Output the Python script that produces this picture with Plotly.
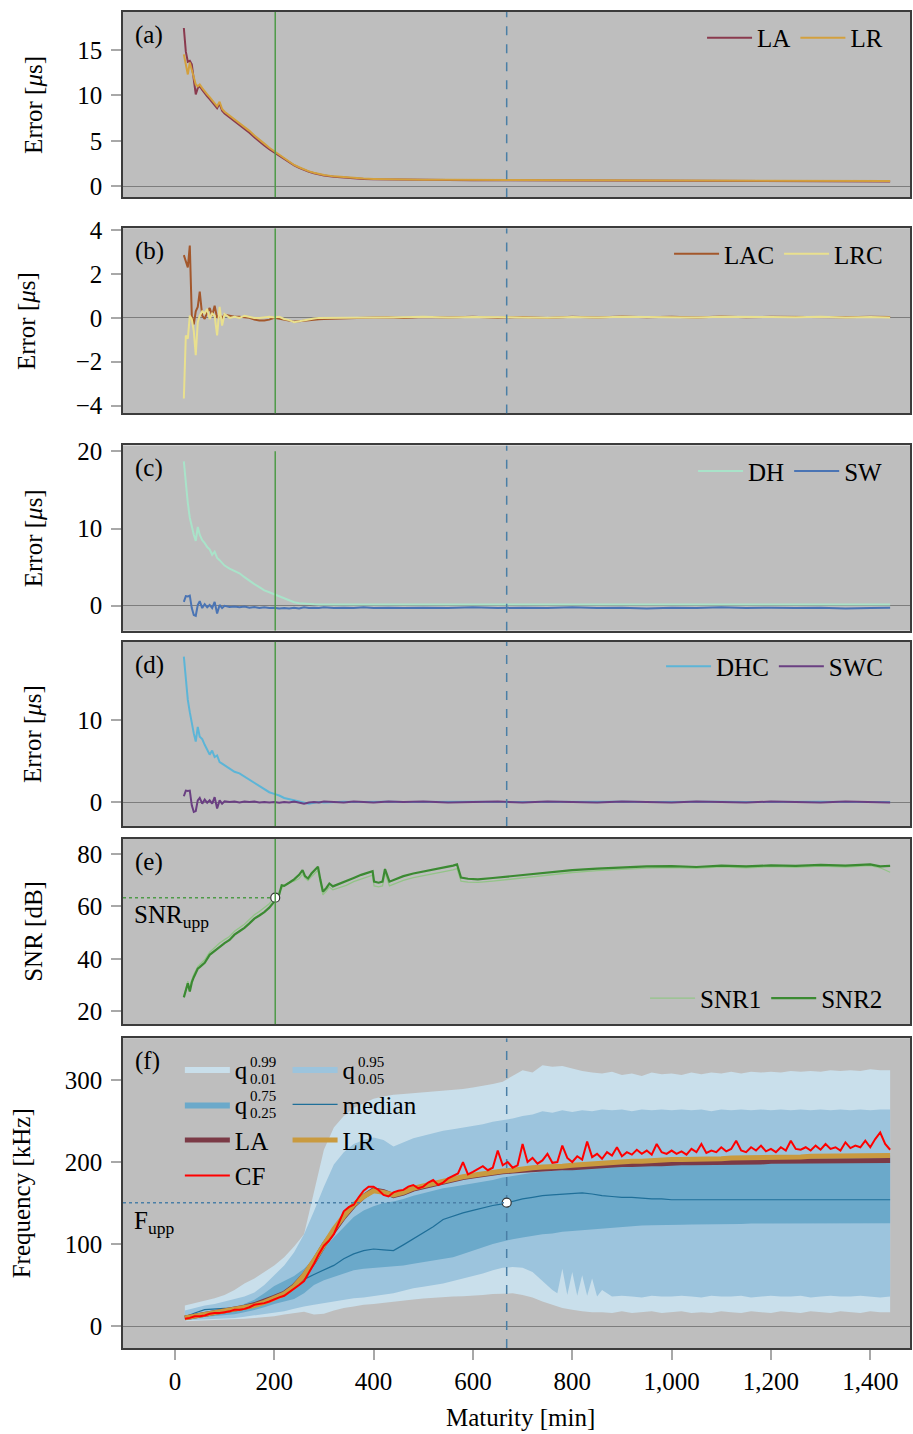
import plotly.graph_objects as go

# ---------------- data ----------------
t_err = [18, 22, 26, 30, 34, 38, 42, 46, 50, 55, 60, 65, 70, 75, 80, 85, 90, 95, 100,
         110, 120, 130, 140, 150, 160, 170, 180, 190, 200, 210, 220, 230, 240, 250, 260, 270, 280, 290, 300,
         320, 340, 360, 380, 400, 430, 460,
         500, 550, 600, 650, 700, 750, 800, 850, 900, 950, 1000, 1050, 1100, 1150, 1200, 1250, 1300, 1350, 1400,
         1440]

la_err = [17.4, 14.8, 13.7, 13.8, 13.4, 11.6, 10.1, 10.8, 11.0,
          10.6, 10.2, 9.9, 9.6, 9.3, 9.0, 8.6, 9.1, 8.3, 8.0,
          7.6, 7.2, 6.7, 6.3, 5.9, 5.4, 4.9, 4.5, 4.1, 3.75, 3.4, 3.0, 2.65, 2.3, 2.05, 1.8, 1.6, 1.45, 1.3, 1.2,
          1.05, 0.95, 0.88, 0.82, 0.78, 0.75, 0.72,
          0.70, 0.69, 0.68, 0.67, 0.66, 0.65, 0.64, 0.63, 0.62, 0.61, 0.60, 0.60, 0.59, 0.58, 0.58, 0.57, 0.57, 0.56, 0.56,
          0.55]
lr_err = [14.5, 13.5, 12.3, 13.6, 12.8, 11.8, 11.2, 11.0, 11.2,
          10.8, 10.4, 10.1, 9.8, 9.5, 9.2, 8.8, 9.3, 8.5, 8.2,
          7.8, 7.4, 6.9, 6.5, 6.1, 5.6, 5.1, 4.7, 4.25, 3.85, 3.45, 3.05, 2.7, 2.35, 2.1, 1.85, 1.65, 1.5, 1.35, 1.25,
          1.1, 1.0, 0.92, 0.86, 0.82, 0.78, 0.75,
          0.73, 0.72, 0.71, 0.70, 0.69, 0.68, 0.67, 0.66, 0.65, 0.64, 0.63, 0.63, 0.62, 0.61, 0.61, 0.60, 0.60, 0.59, 0.59,
          0.58]

lac_err = [2.86, 2.55, 2.3, 3.3, 0.1, -0.3, 0.3, 0.5, 1.2,
           0.1, -0.05, 0.25, 0.45, 0.1, 0.55, 0.0, 0.15, 0.0, 0.15,
           0.1, 0.05, 0.05, 0.02, 0.0, -0.08, -0.12, -0.12, -0.08, 0.0, -0.05, -0.1, -0.15, -0.17, -0.15, -0.12, -0.1, -0.08, -0.06, -0.05,
           -0.03, -0.02, 0.0, 0.01, 0.02, 0.03, 0.0,
           0.04, 0.02, 0.05, 0.01, 0.04, 0.0, 0.05, 0.02, 0.06, 0.03, 0.05, 0.02, 0.06, 0.03, 0.05, 0.04, 0.06, 0.03, 0.05,
           0.04]
lrc_err = [-3.68, -0.8, -0.95, 0.1, -0.05, -0.6, -1.7, -0.2, 0.1,
           0.3, 0.2, 0.4, -0.05, 0.2, 0.1, -0.8, 0.5, -0.35, 0.18,
           0.0, 0.05, 0.0, 0.1, 0.05, 0.0, 0.0, 0.02, 0.05, 0.02, 0.05, -0.05, -0.1, -0.2, -0.15, -0.1, -0.05, -0.03, 0.0, 0.0,
           0.01, 0.02, 0.0, 0.02, 0.03, 0.01, 0.03,
           0.05, 0.02, 0.04, 0.03, 0.05, 0.01, 0.04, 0.02, 0.05, 0.03, 0.04, 0.02, 0.05, 0.03, 0.04, 0.03, 0.05, 0.02, 0.04,
           0.02]

dh_err = [18.7, 15.8, 13.3, 11.4, 10.2, 9.2, 8.4, 10.2, 9.2,
          8.5, 8.1, 7.6, 7.3, 6.6, 7.0, 6.2, 5.9, 5.5, 5.2,
          4.8, 4.5, 4.2, 3.7, 3.2, 2.8, 2.4, 2.0, 1.75, 1.5, 1.2, 0.9, 0.65, 0.45, 0.32, 0.25, 0.2, 0.18, 0.16, 0.15,
          0.15, 0.16, 0.15, 0.16, 0.15, 0.16, 0.15,
          0.16, 0.15, 0.16, 0.15, 0.16, 0.15, 0.16, 0.15, 0.16, 0.15, 0.16, 0.15, 0.16, 0.15, 0.16, 0.15, 0.16, 0.15, 0.16,
          0.15]
sw_err = [0.5, 1.25, 1.2, 1.3, -0.3, -1.2, -1.3, 0.1, 0.6,
          -0.3, 0.2, -0.2, 0.1, -0.3, 0.5, -1.0, 0.1, -0.3, 0.0,
          -0.15, -0.1, -0.2, -0.1, -0.25, -0.15, -0.3, -0.2, -0.3, -0.25, -0.35, -0.3, -0.35, -0.25, -0.35, -0.2, -0.3, -0.25, -0.3, -0.2,
          -0.3, -0.25, -0.3, -0.2, -0.3, -0.25, -0.3,
          -0.25, -0.3, -0.2, -0.3, -0.25, -0.3, -0.2, -0.3, -0.25, -0.35, -0.25, -0.3, -0.2, -0.3, -0.25, -0.3, -0.25, -0.35, -0.3,
          -0.25]

dhc_err = [17.8, 14.9, 12.5, 11.0, 9.5, 8.4, 7.4, 9.2, 8.0,
           7.7, 7.0, 6.3, 5.8, 6.3, 5.5, 5.7, 4.9, 4.7, 4.5,
           4.1, 3.7, 3.5, 3.1, 2.8, 2.4, 2.0, 1.6, 1.2, 1.0, 0.8, 0.5, 0.35, 0.2, 0.05, -0.1, -0.2, -0.1, 0.0, -0.05,
           0.0, 0.02, 0.0, 0.03, 0.0, 0.02, 0.0,
           0.03, 0.0, 0.04, 0.01, 0.03, 0.0, 0.04, 0.02, 0.03, 0.0, 0.04, 0.01, 0.03, 0.0, 0.04, 0.02, 0.03, 0.0, 0.03,
           0.01]
swc_err = [0.7, 1.4, 1.35, 1.4, -0.4, -1.2, -1.1, 0.2, 0.5,
           -0.2, 0.3, -0.1, 0.2, -0.2, 0.6, -0.8, 0.2, -0.2, 0.1,
           0.0, 0.05, -0.05, 0.05, 0.0, 0.05, -0.05, 0.0, -0.05, 0.0, -0.1, 0.0, -0.05, 0.05, -0.05, -0.2, -0.05, 0.0, -0.05, 0.05,
           0.0, -0.05, 0.05, 0.0, -0.05, 0.05, 0.0,
           0.05, -0.05, 0.0, 0.05, -0.05, 0.05, 0.0, -0.05, 0.05, 0.0, -0.05, 0.05, 0.0, -0.05, 0.05, 0.0, -0.05, 0.05, 0.0,
           -0.05]

t_snr = [18, 22, 26, 30, 34, 38, 42, 46, 50, 55, 60,
         70, 80, 90, 100, 110, 120, 130, 140, 150, 160, 170, 180, 190, 200,
         205, 210, 215, 220, 230, 240, 250,
         257, 262, 268, 275, 282, 288, 293, 298,
         305, 311, 318, 330, 345, 360, 375, 390,
         398, 401, 410, 418, 423, 432, 440,
         460, 480, 500, 520, 540, 560,
         568, 573, 576, 590, 610, 640, 670, 700,
         750, 800, 850, 900, 950, 1000, 1050, 1100, 1150, 1200, 1250, 1300, 1350, 1400,
         1420, 1440]
snr1 = [25.5, 29.0, 31.5, 28.5, 32.0, 34.0, 35.5, 37.0, 37.8, 38.8, 39.6,
        42.5, 44.2, 46.0, 47.3, 48.5, 50.5, 51.8, 53.2, 55.0, 56.8, 58.0, 59.4, 61.0, 63.2,
        64.5, 65.5, 67.0, 68.0, 69.0, 69.6, 70.6,
        72.3, 70.8, 69.8, 71.3, 72.8, 73.8, 68.8, 64.4,
        65.8, 67.4, 66.3, 67.1, 68.0, 69.4, 70.5, 71.3,
        71.9, 67.8, 67.4, 67.8, 72.6, 67.8, 68.4,
        69.9, 70.9, 71.6, 72.4, 73.2, 73.9,
        74.4, 71.5, 69.6, 69.2, 69.1, 69.6, 70.2, 70.8,
        71.8, 72.9, 73.6, 74.1, 74.6, 74.8, 74.5, 75.0, 74.7, 75.1, 74.9, 75.3, 75.0, 75.5,
        74.7, 73.0]
snr2 = [25.3, 28.0, 30.7, 27.5, 31.0, 33.0, 34.5, 36.2, 36.8, 37.8, 38.5,
        41.5, 43.0, 44.7, 46.0, 47.2, 49.2, 50.5, 51.8, 53.5, 55.3, 56.5, 57.8, 59.5, 61.8,
        63.5, 64.5, 68.0, 67.8, 69.0, 70.3, 72.0,
        73.8, 71.5, 70.6, 72.5, 74.0, 75.1, 70.0, 65.6,
        67.0, 68.7, 67.6, 68.5, 69.4, 70.8, 72.0, 72.8,
        73.4, 69.4, 69.0, 69.4, 74.2, 69.4, 70.0,
        71.5, 72.5, 73.2, 74.0, 74.8, 75.5,
        76.0, 73.0, 71.0, 70.5, 70.3, 70.8, 71.4, 72.0,
        72.8, 73.8, 74.4, 74.8, 75.2, 75.3, 75.0, 75.5, 75.2, 75.6, 75.4, 75.8, 75.5, 76.0,
        75.2, 75.4]

t_f = [20, 40, 60, 80, 100, 120, 140, 160, 180, 200,
       220, 240, 260, 280, 300, 320, 340, 360, 380, 400,
       420, 440, 460, 480, 500, 520, 540, 560, 580, 600,
       620, 640, 660, 680, 700, 720, 740, 760, 780, 800,
       820, 840, 860, 880, 900, 920, 940, 960, 980, 1000,
       1020, 1040, 1060, 1080, 1100, 1120, 1140, 1160, 1180, 1200,
       1220, 1240, 1260, 1280, 1300, 1320, 1340, 1360, 1380, 1400, 1420, 1440]
q99 = [25, 28, 31, 34, 38, 44, 52, 58, 66, 74,
       84, 97, 112, 165, 215, 242, 256, 266, 272, 277,
       280, 282, 283, 284, 285, 286, 287, 288, 289, 291,
       293, 295, 298, 305, 312, 309, 318, 316, 317, 314,
       311, 309, 308, 310, 306, 308, 305, 309, 307, 308,
       306, 309, 307, 309, 308, 310, 308, 310, 309, 310,
       309, 311, 310, 311, 310, 312, 311, 312, 311, 313, 312, 312]
q95 = [19, 22, 25, 27, 30, 33, 36, 41, 50, 62,
       74, 90, 112, 140, 170, 197, 212, 222, 227, 230,
       227, 219, 224, 229, 232, 235, 238, 240, 242, 244,
       246, 249, 251, 253, 256, 258, 262, 260, 263, 261,
       263, 262, 264, 263, 264, 262, 264, 263, 264, 263,
       264, 263, 264, 262, 264, 263, 264, 263, 264, 263,
       264, 263, 264, 263, 264, 263, 264, 263, 264, 263, 264, 264]
q75 = [13, 15, 16, 17, 18, 22, 27, 32, 40, 49,
       55, 61, 70, 82, 95, 108, 120, 133, 141, 146,
       150, 152, 155, 159, 162, 165, 168, 170, 172, 174,
       176, 178, 181, 183, 185, 187, 188, 189, 190, 192,
       193, 195, 196, 198, 199, 200, 200, 201, 201, 202,
       202, 203, 203, 203, 204, 204, 204, 205, 205, 205,
       205, 206, 206, 206, 206, 207, 207, 207, 207, 207, 208, 208]
q50 = [11, 16, 20, 21, 21.5, 22, 23.5, 26, 30, 35,
       41, 49, 57, 63, 68, 74, 82, 88, 92, 94,
       93, 92, 99, 106, 114, 121, 130, 134, 138, 141,
       144, 147, 149, 152, 155, 157, 159, 160, 161, 162,
       162.5, 161, 159, 158, 157, 157, 156, 155, 155, 154,
       154, 154, 153.5, 154, 153.5, 154, 153.5, 154, 153.5, 154,
       154, 153.5, 154, 153.5, 154, 153.5, 154, 153.5, 154, 154, 153.5, 154]
q25 = [9, 10, 11, 12, 13, 14.5, 17, 19.5, 23, 27,
       30, 33, 40, 50, 56, 60, 64, 68, 70, 71,
       72, 73, 74, 76, 78, 80, 82, 84, 88, 92,
       96, 100, 103, 106, 108, 110, 112, 113, 115, 116,
       117, 118, 119, 120, 121, 122, 122.5, 123, 123, 123.5,
       123.5, 124, 124, 124, 124.5, 124.5, 124.5, 125, 125, 125,
       125, 125, 125, 125.5, 125.5, 125.5, 125.5, 125.5, 125.5, 125.5, 125.5, 125.5]
t_q05 = [20, 40, 60, 80, 100, 120, 140, 160, 180, 200,
         220, 240, 260, 280, 300, 320, 340, 360, 380, 400,
         420, 440, 460, 480, 500, 520, 540, 560, 580, 600,
         620, 640, 660, 680, 700, 720, 740, 760, 770, 780, 790, 800, 810, 820, 830, 840, 850, 860,
         880, 900, 920, 940, 960, 980, 1000,
         1020, 1040, 1060, 1080, 1100, 1120, 1140, 1160, 1180, 1200,
         1220, 1240, 1260, 1280, 1300, 1320, 1340, 1360, 1380, 1400, 1420, 1440]
q05 = [7, 7.5, 8, 8.5, 9, 10, 11.5, 13, 14.5, 16,
       18, 21, 24, 26, 28, 30, 32, 34, 35, 36.5,
       38, 40, 43, 46, 48, 50, 52, 55, 58, 61,
       64, 68, 71, 72, 71, 66, 55, 44, 40, 70, 38, 66, 37, 62, 37, 58, 36, 44,
       36, 37, 36, 35, 37, 36, 36,
       37, 36, 35, 37, 36, 36, 37, 35, 36, 37,
       36, 36, 37, 35, 36, 37, 36, 36, 37, 36, 35, 36]
q01 = [6, 6.5, 7, 7, 7.5, 8, 9, 10, 11, 12,
       14, 16, 17.5, 14, 15, 19, 22, 24, 26, 27,
       28.5, 30, 31, 32.5, 33.5, 34.5, 35.5, 36, 36.5, 37,
       38, 39, 39.5, 40, 38, 35, 30, 26, 22, 20,
       18, 17, 17, 16, 18, 16, 17, 18, 16, 17,
       18, 16, 17, 16, 18, 17, 16, 18, 17, 16,
       18, 17, 16, 18, 17, 16, 18, 17, 16, 18, 17, 17]
la_f = [10, 12, 14, 16, 18, 20, 23, 26, 30, 35,
        40, 49, 62, 79, 99, 117, 133, 147, 158, 166,
        164, 159, 162, 167, 170, 173, 175, 178, 181, 183,
        185, 186, 188, 189, 190, 191, 192, 192, 193, 193,
        194, 195, 196, 196, 197, 197, 198, 198, 198, 199,
        199, 199, 199, 200, 200, 200, 200, 200, 200, 201,
        201, 201, 201, 201, 201, 201, 201, 202, 202, 202, 202, 202]
lr_f = [10, 12, 14, 16, 18, 20, 22, 25, 29, 34,
        39, 48, 62, 80, 100, 118, 134, 148, 158, 165,
        163, 160, 163, 168, 171, 174, 176, 179, 182, 184,
        186, 187, 189, 190, 192, 193, 194, 194, 195, 196,
        197, 198, 199, 200, 200, 201, 201, 202, 202, 203,
        203, 203, 204, 204, 204, 205, 205, 205, 205, 206,
        206, 206, 206, 207, 207, 207, 207, 207, 208, 208, 208, 208]

t_cf = [20, 30, 40, 50, 60, 70, 80, 90, 100, 110, 120, 130, 140, 150, 160, 170, 180, 190, 200,
        210, 220, 230, 240, 250, 260, 270, 280, 290, 300, 310, 320, 330, 340, 350, 360, 370, 380, 390, 400,
        410, 420, 430, 440, 450, 460, 470, 480, 490, 500, 510, 520, 530, 540, 550, 560, 570, 580, 590, 600,
        610, 620, 630, 640, 650, 660, 670, 680, 690, 700, 710, 720, 730, 740, 750, 760, 770, 780, 790, 800,
        810, 820, 830, 840, 850, 860, 870, 880, 890, 900, 910, 920, 930, 940, 950, 960, 970, 980, 990, 1000,
        1010, 1020, 1030, 1040, 1050, 1060, 1070, 1080, 1090, 1100, 1110, 1120, 1130, 1140, 1150, 1160, 1170,
        1180, 1190, 1200,
        1210, 1220, 1230, 1240, 1250, 1260, 1270, 1280, 1290, 1300, 1310, 1320, 1330, 1340, 1350, 1360, 1370,
        1380, 1390, 1400, 1410, 1420, 1430, 1440]
cf_f = [9, 10, 12, 12, 13, 15, 16, 16, 17, 18, 20, 20, 21, 23, 26, 27, 28, 30, 33,
        35, 37, 41, 46, 50, 55, 65, 76, 88, 98, 104, 112, 126, 140, 145, 148, 157, 165, 170, 170,
        166, 160, 158, 163, 165, 166, 170, 172, 168, 170, 175, 178, 172, 175, 180, 183, 186, 200, 185, 188,
        192, 195, 190, 193, 214, 196, 200, 193, 196, 222, 200, 205, 198, 202, 210, 199, 200, 220, 205, 200,
        207, 203, 225, 206, 210, 204, 212, 208, 218, 207, 212, 209, 215, 210, 214, 209, 222, 212, 210, 214,
        210, 213, 209, 216, 212, 222, 211, 214, 212, 218, 213, 216, 226, 214, 212, 218, 214, 220, 213, 216,
        212, 218, 214, 226, 216, 215, 218, 214, 220, 215, 222, 216, 218, 214, 224, 217, 220, 218, 226, 218,
        228, 236, 222, 215]

t_snr_upp = 202     # maturity where SNR reaches SNR_upp
snr_upp = 63.3
t_f_upp = 668       # maturity where median frequency reaches F_upp
f_upp = 150.5

x_ticks = [0, 200, 400, 600, 800, 1000, 1200, 1400]
y_ticks = [[0, 5, 10, 15], [-4, -2, 0, 2, 4], [0, 10, 20], [0, 10], [20, 40, 60, 80], [0, 100, 200, 300]]
y_ranges = [[-1.2, 19.16], [-4.36, 4.09], [-3.23, 20.77], [-2.93, 19.63], [15.06, 85.7], [-26.7, 351]]
x_range = [-104.5, 1480]

# ---------------- layout helpers ----------------
FONT = "Liberation Serif"
FS = 25
BG = "#bebebe"
W, H = 913, 1434
ML, MR, MT, MB = 123, 1, 7, 86
PH = H - MT - MB
PW = W - ML - MR
BASE = H - MB


def yp(px):
    return (BASE - px) / PH


def xp(px):
    return (px - ML) / PW


panels = [(7, 193), (224, 410), (442, 628), (639, 824), (837, 1023), (1037, 1348)]

GREEN = "#4e9a48"
BLUE = "#4a7fa6"

fig = go.Figure()


def ax(row):
    return ("x" if row == 1 else f"x{row}"), ("y" if row == 1 else f"y{row}")


def line(row, x, y, name, color, width, legend, showlegend=True, **kw):
    xa, ya = ax(row)
    fig.add_trace(go.Scatter(x=x, y=y, name=name, mode="lines",
                             line=dict(color=color, width=width),
                             xaxis=xa, yaxis=ya, legend=legend,
                             showlegend=showlegend, **kw))


# (a)
line(1, t_err, la_err, "LA", "#8a3a4e", 2, "legend")
line(1, t_err, lr_err, "LR", "#d3a03e", 2, "legend")
# (b)
line(2, t_err, lac_err, "LAC", "#a3572b", 2, "legend2")
line(2, t_err, lrc_err, "LRC", "#e9e08e", 2, "legend2")
# (c)
line(3, t_err, dh_err, "DH", "#a9e3c9", 2, "legend3")
line(3, t_err, sw_err, "SW", "#4a74b4", 2, "legend3")
# (d)
line(4, t_err, dhc_err, "DHC", "#5cb5d7", 2, "legend4")
line(4, t_err, swc_err, "SWC", "#6a3f82", 2, "legend4")
# (e)
line(5, t_snr, snr1, "SNR1", "#93c488", 1.3, "legend5")
line(5, t_snr, snr2, "SNR2", "#3b8a32", 2.2, "legend5")

# (f) bands
LIGHT, MED, DARK = "#c9dfeb", "#9cc4dd", "#6ba9ca"
line(6, t_f, q01, "q01", LIGHT, 0, "legend6", showlegend=False)
line(6, t_f, q99, "q", LIGHT, 0, "legend6", fill="tonexty", fillcolor=LIGHT, legendgroup="g1")
line(6, t_q05, q05, "q05", MED, 0, "legend7", showlegend=False)
line(6, t_f, q95, "q", MED, 0, "legend7", fill="tonexty", fillcolor=MED, legendgroup="g2")
line(6, t_f, q25, "q25", DARK, 0, "legend6", showlegend=False)
line(6, t_f, q75, "q", DARK, 0, "legend6", fill="tonexty", fillcolor=DARK, legendgroup="g3")
line(6, t_f, q50, "median", "#1f6f99", 1.2, "legend7", legendgroup="g4")
# dashed vertical line in (f), drawn above the bands
fig.add_trace(go.Scatter(x=[t_f_upp, t_f_upp], y=y_ranges[5], mode="lines",
                         line=dict(color=BLUE, width=1.5, dash="dash"),
                         xaxis="x6", yaxis="y6", showlegend=False, hoverinfo="skip"))
line(6, t_f, la_f, "LA", "#7b3a46", 5, "legend6", legendgroup="g5")
line(6, t_f, lr_f, "LR", "#c99a3f", 5, "legend7", legendgroup="g6")
line(6, t_cf, cf_f, "CF", "#ff0000", 2, "legend6", legendgroup="g7")

# markers at the thresholds
fig.add_trace(go.Scatter(x=[t_snr_upp], y=[snr_upp], mode="markers",
                         marker=dict(color="white", size=9, line=dict(color="#333333", width=1.2)),
                         xaxis="x5", yaxis="y5", showlegend=False))
fig.add_trace(go.Scatter(x=[t_f_upp], y=[f_upp], mode="markers",
                         marker=dict(color="white", size=9, line=dict(color="#333333", width=1.2)),
                         xaxis="x6", yaxis="y6", showlegend=False))

# axes
layout = dict(width=W, height=H, autosize=False,
              margin=dict(l=ML, r=MR, t=MT, b=MB, pad=0),
              plot_bgcolor=BG, paper_bgcolor="white",
              font=dict(family=FONT, size=FS, color="black"))
for i, (top, bot) in enumerate(panels):
    row = i + 1
    xk = "xaxis" if row == 1 else f"xaxis{row}"
    yk = "yaxis" if row == 1 else f"yaxis{row}"
    last = row == 6
    layout[xk] = dict(domain=[0, 1], range=x_range, anchor=ax(row)[1],
                      showline=True, mirror=True, linecolor="#3c3c3c", linewidth=1.5,
                      showgrid=False, zeroline=False,
                      ticks="outside" if last else "", ticklen=10, tickwidth=1.5, tickcolor="#a8a8a8",
                      showticklabels=last, tickvals=x_ticks, tickformat=",",
                      ticklabelstandoff=0,
                      tickfont=dict(family=FONT, size=FS))
    layout[yk] = dict(domain=[yp(bot), yp(top)], range=y_ranges[i], anchor=ax(row)[0],
                      showline=True, mirror=True, linecolor="#3c3c3c", linewidth=1.5,
                      showgrid=False, zeroline=True, zerolinecolor="#7d7d7d", zerolinewidth=1.4,
                      ticks="outside", ticklen=10, tickwidth=1.5, tickcolor="#a8a8a8",
                      tickvals=y_ticks[i], ticklabelstandoff=4,
                      tickfont=dict(family=FONT, size=FS))

# legends
common = dict(bgcolor="rgba(0,0,0,0)", borderwidth=0, font=dict(family=FONT, size=FS),
              itemwidth=45)
layout["legend"] = dict(common, orientation="h", x=xp(890), xanchor="right", y=yp(33), yanchor="middle")
layout["legend2"] = dict(common, orientation="h", x=xp(890), xanchor="right", y=yp(250), yanchor="middle")
layout["legend3"] = dict(common, orientation="h", x=xp(890), xanchor="right", y=yp(468), yanchor="middle")
layout["legend4"] = dict(common, orientation="h", x=xp(890), xanchor="right", y=yp(664), yanchor="middle")
layout["legend5"] = dict(common, orientation="h", x=xp(890), xanchor="right", y=yp(997), yanchor="middle")
layout["legend6"] = dict(common, orientation="v", x=xp(180), xanchor="left", y=yp(1045), yanchor="top",
                         tracegroupgap=0)
layout["legend7"] = dict(common, orientation="v", x=xp(288), xanchor="left", y=yp(1045), yanchor="top",
                         tracegroupgap=0)

fig.update_layout(**layout)

# vertical / horizontal reference lines
shapes = []
for row in [1, 2, 3, 4, 5]:
    xa, ya = ax(row)
    y1 = 20 if row == 3 else y_ranges[row - 1][1]
    shapes.append(dict(type="line", xref=xa, yref=ya, x0=t_snr_upp, x1=t_snr_upp,
                       y0=y_ranges[row - 1][0], y1=y1, line=dict(color=GREEN, width=1.5), layer="above"))
for row in [1, 2, 3, 4]:
    xa, ya = ax(row)
    shapes.append(dict(type="line", xref=xa, yref=ya, x0=t_f_upp, x1=t_f_upp,
                       y0=y_ranges[row - 1][0], y1=y_ranges[row - 1][1],
                       line=dict(color=BLUE, width=1.5, dash="dash"), layer="above"))
shapes.append(dict(type="line", xref="x5", yref="y5", x0=x_range[0], x1=t_snr_upp, y0=snr_upp, y1=snr_upp,
                   line=dict(color=GREEN, width=1.5, dash="dot"), layer="below"))
shapes.append(dict(type="line", xref="x6", yref="y6", x0=x_range[0], x1=t_f_upp, y0=f_upp, y1=f_upp,
                   line=dict(color=BLUE, width=1.5, dash="dot"), layer="above"))
fig.update_layout(shapes=shapes)

# annotations
ann = []
for i, lab in enumerate(["(a)", "(b)", "(c)", "(d)", "(e)", "(f)"]):
    top = panels[i][0]
    ann.append(dict(text=lab, xref="paper", yref="paper", x=xp(133), y=yp(top + 23),
                    xanchor="left", yanchor="middle", showarrow=False, font=dict(family=FONT, size=FS)))
ytitles = ["Error [<i>μ</i>s]"] * 4 + ["SNR [dB]", "Frequency [kHz]"]
ytx = [33, 27, 33, 33, 33, 21]
for i, t in enumerate(ytitles):
    top, bot = panels[i]
    ann.append(dict(text=t, xref="paper", yref="paper", x=xp(ytx[i]), y=yp((top + bot) / 2),
                    xanchor="center", yanchor="middle", textangle=-90, showarrow=False,
                    font=dict(family=FONT, size=FS)))
ann.append(dict(text="Maturity [min]", xref="paper", yref="paper", x=xp(522), y=yp(1418),
                xanchor="center", yanchor="middle", showarrow=False, font=dict(family=FONT, size=FS)))
ann.append(dict(text="SNR<sub>upp</sub>", xref="paper", yref="paper", x=xp(132), y=yp(915),
                xanchor="left", yanchor="middle", showarrow=False, font=dict(family=FONT, size=FS)))
ann.append(dict(text="F<sub>upp</sub>", xref="paper", yref="paper", x=xp(132), y=yp(1222),
                xanchor="left", yanchor="middle", showarrow=False, font=dict(family=FONT, size=FS)))
# stacked quantile indices next to the legend "q" labels
qlab = [(248, 1069, "0.99", "0.01"), (357, 1069, "0.95", "0.05"), (248, 1103, "0.75", "0.25")]
for x0, yc, sup, sub in qlab:
    ann.append(dict(text=sup, xref="paper", yref="paper", x=xp(x0), y=yp(yc - 8),
                    xanchor="left", yanchor="middle", showarrow=False, font=dict(family=FONT, size=15)))
    ann.append(dict(text=sub, xref="paper", yref="paper", x=xp(x0), y=yp(yc + 9),
                    xanchor="left", yanchor="middle", showarrow=False, font=dict(family=FONT, size=15)))
fig.update_layout(annotations=ann)

fig.write_html("out.html")
